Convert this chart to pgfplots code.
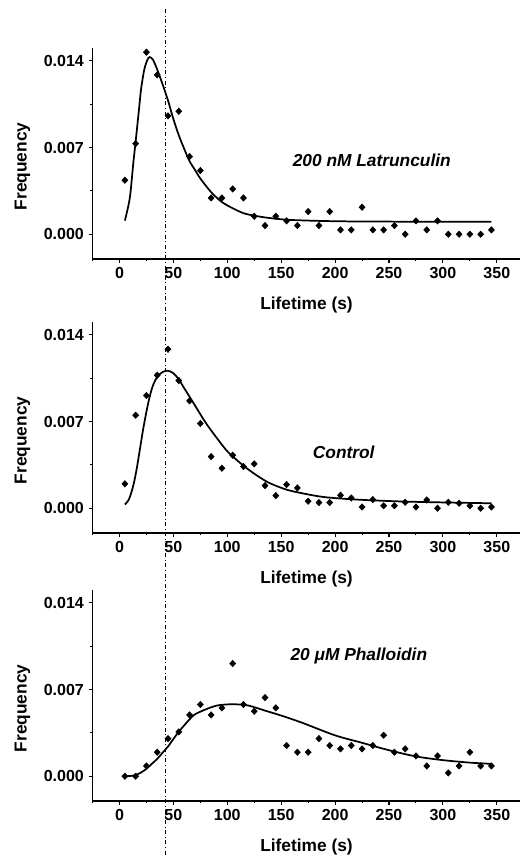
\documentclass[border=0pt]{standalone}
\usepackage{pgfplots}
\pgfplotsset{compat=1.18}
\usepackage{fontspec}
\setmainfont{Liberation Sans}

\pgfplotsset{
  panel/.style={
    scale only axis, width=321pt, height=157.9pt,
    anchor=south west,
    xmin=-25, xmax=372, ymin=-0.002, ymax=0.015,
    axis lines*=left,
    axis line style={line width=0.9pt, black},
    tick align=outside,
    major tick length=3pt, minor tick length=1.6pt,
    every tick/.style={black, line width=0.8pt},
    xtick={0,50,...,350}, minor xtick={-25,25,...,325},
    ytick={0,0.007,0.014}, minor ytick={0.0035,0.0105},
    scaled y ticks=false,
    yticklabel style={/pgf/number format/fixed, /pgf/number format/fixed zerofill, /pgf/number format/precision=3},
    /pgf/number format/assume math mode=true,
    ticklabel style={font=\bfseries\fontsize{12}{14}\selectfont},
    label style={font=\bfseries\fontsize{13}{15}\selectfont},
    xlabel={Lifetime (s)}, ylabel={Frequency},
    xlabel style={at={(axis description cs:0.5,-0.217)}, anchor=center},
    ylabel style={at={(axis description cs:-0.1636,0.44)}, anchor=center},
    clip=false,
  },
  pts/.style={only marks, mark=diamond*, mark size=2.4pt, mark options={xscale=1.25, fill=black, draw=black}},
  fit/.style={no marks, smooth, line width=1.3pt, black},
}

\begin{document}
\begin{tikzpicture}
\path[use as bounding box] (0,0) rectangle (390pt,-641.25pt);

% Panel 1: 200 nM Latrunculin
\begin{axis}[panel, at={(69.4pt,-194.25pt)}]
\draw[line width=0.7pt, dash dot] (axis cs:43,0.0182) -- (axis cs:43,-0.0502);
\addplot[pts] coordinates {
(5,0.00436) (15,0.00732) (25,0.0147) (35,0.01287) (45,0.00956) (55,0.00993)
(65,0.00627) (75,0.00514) (85,0.00293) (95,0.00293) (105,0.00366) (115,0.00293)
(125,0.00145) (135,0.0007) (145,0.00145) (155,0.00108) (165,0.0007) (175,0.00183)
(185,0.0007) (195,0.00183) (205,0.00035) (215,0.00035) (225,0.00218) (235,0.00035)
(245,0.00035) (255,0.0007) (265,0) (275,0.00108) (285,0.00035) (295,0.00108)
(305,0) (315,0) (325,0) (335,0) (345,0.00035)
};
\addplot[fit] coordinates {
(5,0.0011) (8,0.0022) (10,0.0032) (12,0.0050) (13,0.0059) (15,0.0075) (18,0.0100)
(20,0.0117) (23,0.0133) (26,0.0141) (28,0.0143) (31,0.0141) (35,0.0133) (40,0.0121)
(45,0.0108) (50,0.0093) (55,0.0080) (60,0.0069) (65,0.0059) (70,0.0052) (75,0.0045)
(85,0.0034) (95,0.0026) (105,0.0021) (115,0.0017) (125,0.0015) (140,0.0013)
(160,0.00115) (200,0.00105) (250,0.00102) (300,0.00101) (345,0.0010)
};
\node[font=\bfseries\itshape\fontsize{13}{15}\selectfont] at (axis cs:234,0.0060) {200 nM Latrunculin};
\end{axis}

% Panel 2: Control
\begin{axis}[panel, at={(69.4pt,-399.75pt)}]
\addplot[pts] coordinates {
(5,0.00197) (15,0.00751) (25,0.0091) (35,0.01074) (45,0.01284) (55,0.01031)
(65,0.00867) (75,0.00684) (85,0.00417) (95,0.00323) (105,0.00428) (115,0.00337)
(125,0.00358) (135,0.00183) (145,0.00102) (155,0.00191) (165,0.00164) (175,0.00057)
(185,0.00046) (195,0.00046) (205,0.00105) (215,0.00083) (225,0.0001) (235,0.0007)
(245,0.0002) (255,0.0002) (265,0.00048) (275,0.0001) (285,0.00067) (295,0)
(305,0.00048) (315,0.0004) (325,0.0002) (335,0) (345,0.0001)
};
\addplot[fit] coordinates {
(5,0.0003) (8,0.0006) (10,0.0010) (13,0.0019) (16,0.0032) (19,0.0048) (22,0.0064)
(25,0.0078) (28,0.0090) (31,0.0099) (35,0.0106) (40,0.0110) (45,0.0111) (50,0.0109)
(55,0.0104) (60,0.0097) (70,0.0083) (80,0.0069) (90,0.0057) (100,0.0046) (110,0.0038)
(120,0.0031) (130,0.0025) (140,0.0020) (155,0.0015) (170,0.0012) (190,0.0009)
(220,0.0007) (260,0.00055) (300,0.00047) (345,0.0004)
};
\node[font=\bfseries\itshape\fontsize{13}{15}\selectfont] at (axis cs:208,0.0045) {Control};
\end{axis}

% Panel 3: 20 uM Phalloidin
\begin{axis}[panel, at={(69.4pt,-600.75pt)}]
\addplot[pts] coordinates {
(5,0) (15,0) (25,0.00083) (35,0.00194) (45,0.00304) (55,0.00358)
(65,0.00495) (75,0.00579) (85,0.00495) (95,0.00552) (105,0.0091) (115,0.00579)
(125,0.00525) (135,0.00635) (145,0.00552) (155,0.00248) (165,0.00194) (175,0.00194)
(185,0.00304) (195,0.00248) (205,0.00221) (215,0.00248) (225,0.00221) (235,0.00248)
(245,0.00331) (255,0.00194) (265,0.00221) (275,0.00164) (285,0.00083) (295,0.00164)
(305,0.00027) (315,0.00083) (325,0.00194) (335,0.00083) (345,0.00083)
};
\addplot[fit] coordinates {
(5,0.0000) (10,0.00002) (15,0.0001) (20,0.0003) (25,0.0006) (30,0.0010) (35,0.0014)
(40,0.0019) (45,0.0024) (50,0.0030) (55,0.0036) (60,0.0041) (65,0.0046) (70,0.0050)
(80,0.0054) (90,0.0057) (100,0.0058) (110,0.0058) (120,0.0057) (135,0.0053)
(150,0.0049) (170,0.0043) (200,0.0033) (225,0.0027) (250,0.0021) (275,0.0016)
(300,0.0013) (325,0.0011) (345,0.0010)
};
\node[font=\bfseries\itshape\fontsize{13}{15}\selectfont] at (axis cs:222,0.0097) {20 μM Phalloidin};
\end{axis}
\end{tikzpicture}
\end{document}
